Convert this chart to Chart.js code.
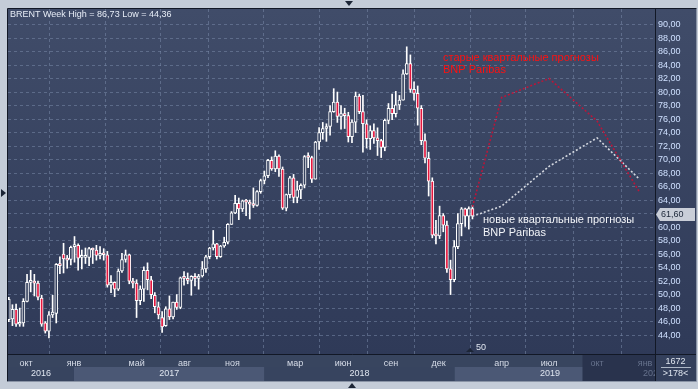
<!DOCTYPE html>
<html>
<head>
<meta charset="utf-8">
<script src="https://cdn.jsdelivr.net/npm/chart.js@4.4.1/dist/chart.umd.min.js"></script>
<style>
  html, body { margin: 0; padding: 0; background: #c4ccd8; overflow: hidden; }
</style>
</head>
<body>
<canvas id="chart" width="698" height="389"></canvas>
<script>
// недельные свечи BRENT, первая неделя с 29.08.2016
const firstWeek = '2016-08-29';

const opens = [
  // 2016
  46.3, 46.4, 47.8, 45.6, 45.8, 49.0, 51.8, 51.9, 51.7, 49.5, 45.8, 44.6, 47.0, 47.2, 54.6, 56.0, 55.4, 55.2,
  // 2017
  57.1, 57.3, 55.5, 55.5, 55.5, 56.8, 56.6, 55.8, 56.0, 55.9, 51.4, 51.8, 50.8,
  53.5, 55.2, 55.9, 52.0, 51.7, 49.1, 50.8, 53.6, 52.2, 49.9, 48.2, 46.6, 45.4,
  47.9, 46.7, 48.9, 48.1, 52.5, 52.4, 52.1, 52.7, 52.4, 52.75, 53.8, 55.6, 56.9,
  57.5, 55.6, 57.2, 57.75, 60.4, 62.1, 63.5, 62.7, 63.9, 63.7, 63.4, 63.2, 65.25,
  // 2018
  66.9, 67.6, 69.9, 68.6, 70.5, 68.6, 62.8, 64.8, 67.3, 64.4, 65.5, 66.2, 70.45,
  70.3, 67.1, 72.6, 74.0, 74.6, 74.9, 77.1, 78.5, 76.4, 76.8, 76.5, 73.4, 75.55,
  79.4, 77.1, 75.3, 73.1, 74.3, 73.2, 72.8, 71.8, 75.8, 77.6, 76.8, 78.1, 78.8,
  82.7, 84.2, 80.4, 79.8, 77.6, 72.8, 70.2, 66.8, 58.8, 58.7, 61.7, 60.3, 53.8,
  // 2019
  52.2, 57.1, 60.5, 62.7, 61.6, 62.75
];
const highs = [
  49.6, 48.5, 48.6, 48.0, 49.4, 53.0, 53.6, 53.0, 52.0, 49.9, 46.0, 47.5, 49.9, 54.6, 55.6, 57.6, 55.8, 57.2,
  58.6, 57.5, 56.6, 56.9, 57.0, 56.9, 57.3, 57.1, 56.8, 56.4, 52.8, 51.9, 53.8,
  56.1, 56.6, 56.0, 52.4, 52.2, 51.3, 54.1, 54.7, 52.7, 50.3, 48.9, 47.5, 48.2,
  49.8, 48.9, 50.0, 52.6, 53.4, 53.2, 52.8, 53.1, 53.0, 54.9, 55.8, 57.0, 59.5,
  57.6, 57.3, 58.5, 60.5, 62.3, 64.7, 64.3, 64.0, 64.1, 64.0, 65.8, 65.4, 67.1,
  68.3, 70.05, 70.4, 71.3, 70.7, 68.9, 64.9, 67.5, 67.8, 66.8, 66.4, 70.6, 71.0,
  70.5, 72.7, 74.75, 75.5, 75.3, 78.0, 80.5, 80.0, 78.0, 77.6, 77.0, 75.9, 80.0,
  79.7, 79.5, 75.9, 75.0, 75.3, 74.7, 73.0, 76.0, 78.3, 79.7, 80.1, 79.5, 83.3,
  86.7, 85.5, 81.5, 80.9, 78.0, 73.8, 71.1, 67.3, 61.0, 63.1, 62.0, 60.9, 55.1,
  58.0, 62.0, 62.9, 62.8, 63.0, 63.2
];
const lows = [
  46.0, 45.4, 45.3, 45.3, 45.3, 48.9, 50.4, 49.8, 49.2, 45.3, 44.3, 43.6, 46.6, 45.8, 53.1, 53.2, 53.9, 54.4,
  54.8, 53.6, 53.8, 54.6, 54.3, 54.6, 55.1, 55.3, 55.1, 51.1, 50.3, 49.7, 50.6,
  53.3, 54.8, 51.6, 51.0, 46.6, 48.5, 49.0, 50.7, 49.4, 47.3, 46.4, 44.4, 45.3,
  46.3, 46.4, 47.8, 47.9, 51.4, 51.6, 49.9, 51.3, 50.8, 52.6, 53.3, 55.3, 56.6,
  55.3, 55.5, 57.0, 57.5, 60.4, 62.0, 61.1, 62.3, 61.7, 61.2, 62.9, 63.1, 65.0,
  66.4, 67.3, 68.4, 68.2, 67.5, 62.6, 62.4, 64.3, 63.6, 63.6, 64.2, 65.8, 68.8,
  66.6, 67.1, 71.5, 73.0, 72.7, 73.6, 77.0, 75.5, 74.5, 74.6, 72.6, 72.5, 74.0,
  76.8, 71.1, 71.7, 71.5, 72.4, 70.6, 70.3, 71.3, 75.3, 75.9, 76.3, 77.4, 78.8,
  82.6, 79.95, 78.8, 75.1, 72.2, 69.5, 64.6, 58.4, 57.5, 58.3, 59.3, 53.3, 50.0,
  51.9, 56.8, 58.7, 60.1, 59.7, 61.2
];
const closes = [
  49.3, 47.8, 45.6, 45.8, 49.0, 51.8, 52.0, 51.7, 49.6, 45.6, 44.6, 47.0, 47.4, 54.5, 54.3, 55.3, 55.1, 57.0,
  57.2, 55.4, 55.5, 55.6, 56.8, 56.6, 55.8, 56.0, 55.9, 51.4, 51.8, 50.8, 53.5,
  55.2, 55.9, 52.0, 51.7, 49.1, 50.8, 53.6, 52.2, 50.0, 48.2, 47.0, 45.2, 47.9,
  46.7, 48.9, 48.1, 52.5, 52.4, 52.1, 52.7, 52.4, 52.75, 53.8, 55.6, 56.9, 57.5,
  55.6, 57.2, 57.75, 60.4, 62.1, 63.5, 62.7, 63.9, 63.7, 63.4, 63.2, 65.25, 66.9,
  67.6, 69.9, 68.6, 70.5, 68.6, 62.8, 64.8, 67.3, 64.4, 65.5, 66.2, 70.45, 70.3,
  67.1, 72.6, 74.0, 74.6, 74.9, 77.1, 78.5, 76.4, 76.8, 76.5, 73.4, 75.55, 79.4,
  77.1, 75.3, 73.1, 74.3, 73.2, 72.8, 71.8, 75.8, 77.6, 76.8, 78.1, 78.8, 82.7,
  84.2, 80.4, 79.8, 77.6, 72.8, 70.2, 66.8, 58.8, 58.7, 61.7, 60.3, 53.8, 52.2,
  57.1, 60.5, 62.7, 61.6, 62.75, 61.6
];

// квартальные прогнозы BNP Paribas
const forecastDates = ['2019-02-04', '2019-04-01', '2019-07-01', '2019-10-01', '2019-12-21'];
const oldForecast = [63.0, 79.2, 82.0, 75.7, 65.2];
const newForecast = [61.6, 63.1, 69.0, 73.2, 67.1];

// подписи шкал
const monthTicks = ['2016-10-01', '2017-01-01', '2017-05-01', '2017-08-01', '2017-11-01', '2018-03-01',
  '2018-06-01', '2018-09-01', '2018-12-01', '2019-04-01', '2019-07-01', '2019-10-01', '2020-01-01'];
const monthLabels = ['окт', 'янв', 'май', 'авг', 'ноя', 'мар', 'июн', 'сен', 'дек', 'апр', 'июл', 'окт', 'янв'];
const yearStarts = ['2016-01-01', '2017-01-01', '2018-01-01', '2019-01-01', '2020-01-01', '2021-01-01'];
const yearLabels = ['2016', '2017', '2018', '2019', '2020'];
const priceTicks = [44, 46, 48, 50, 52, 54, 56, 58, 60, 62, 64, 66, 68, 70, 72, 74, 76, 78, 80, 82, 84, 86, 88, 90];
const futureFrom = '2019-09-03';

const FONT = "'Liberation Sans', Arial, sans-serif";
const base = Date.UTC(2016, 9, 1);
function day(s) {
  const p = s.split('-');
  return (Date.UTC(+p[0], +p[1] - 1, +p[2]) - base) / 86400000;
}
function fmt(v) { return v.toFixed(2).replace('.', ','); }

const weekX = opens.map((o, i) => day(firstWeek) + 7 * i);

const frame = {
  id: 'frame',
  beforeDraw(chart) {
    const c = chart.ctx, a = chart.chartArea, xs = chart.scales.x;
    const W = chart.width;
    c.save();
    c.fillStyle = '#c4ccd8';
    c.fillRect(0, 0, W, chart.height);
    // поле графика и шкала цен
    const g = c.createLinearGradient(0, a.top, 0, a.bottom);
    g.addColorStop(0, '#404c69');
    g.addColorStop(1, '#2f3a58');
    c.fillStyle = g;
    c.fillRect(a.left, a.top, W - 2 - a.left, a.bottom - a.top);
    // шкала времени
    c.fillStyle = '#38455f';
    c.fillRect(a.left, a.bottom, W - 2 - a.left, 27);
    for (let i = 0; i < yearLabels.length; i++) {
      const x0 = Math.max(a.left, xs.getPixelForValue(day(yearStarts[i])));
      const x1 = Math.min(a.right, xs.getPixelForValue(day(yearStarts[i + 1])));
      if (x1 <= x0) continue;
      c.fillStyle = i % 2 ? '#4b5875' : '#37445f';
      c.fillRect(x0, a.bottom + 13, x1 - x0, 14);
    }
    const fx = xs.getPixelForValue(day(futureFrom));
    c.fillStyle = '#29334d';
    c.fillRect(fx, a.bottom + 1, a.right - fx, 26);
    c.fillStyle = '#34405c';
    c.fillRect(a.right, a.bottom, W - 2 - a.right, 27);
    c.restore();
  },
  afterDraw(chart) {
    const c = chart.ctx, a = chart.chartArea, xs = chart.scales.x, ys = chart.scales.y;
    const W = chart.width;
    c.save();
    // рамки
    c.strokeStyle = '#121826';
    c.lineWidth = 1;
    c.beginPath();
    c.moveTo(a.left - 0.5, a.top - 0.5); c.lineTo(W - 1.5, a.top - 0.5);
    c.moveTo(a.left - 0.5, a.top - 0.5); c.lineTo(a.left - 0.5, a.bottom + 27.5);
    c.moveTo(a.right + 0.5, a.top); c.lineTo(a.right + 0.5, a.bottom + 27.5);
    c.moveTo(a.left, a.bottom + 0.5); c.lineTo(W - 1.5, a.bottom + 0.5);
    c.stroke();
    c.strokeStyle = '#8a94a6';
    c.beginPath();
    c.moveTo(a.left - 0.5, a.bottom + 27.5); c.lineTo(W - 1.5, a.bottom + 27.5);
    c.moveTo(W - 1.5, a.top); c.lineTo(W - 1.5, a.bottom + 27.5);
    c.stroke();

    // годы
    c.save();
    c.beginPath();
    c.rect(a.left, a.bottom + 13, a.right - a.left, 14);
    c.clip();
    c.font = '9px ' + FONT;
    c.textAlign = 'center';
    c.textBaseline = 'middle';
    const fx = xs.getPixelForValue(day(futureFrom));
    for (let i = 0; i < yearLabels.length; i++) {
      const x0 = Math.max(a.left, xs.getPixelForValue(day(yearStarts[i])));
      const x1 = Math.min(a.right, xs.getPixelForValue(day(yearStarts[i + 1])));
      if (x1 <= x0) continue;
      const cx = x1 - x0 < 20 ? x0 + 8 : (x0 + x1) / 2;
      c.fillStyle = cx > fx ? '#66728c' : '#dfe5ef';
      c.fillText(yearLabels[i], cx, a.bottom + 20);
    }
    c.restore();

    // заголовок
    c.font = '9px ' + FONT;
    c.textAlign = 'left';
    c.textBaseline = 'middle';
    c.fillStyle = '#e6ecf6';
    c.fillText('BRENT Week High = 86,73 Low = 44,36', a.left + 2, a.top + 6);

    // подписи прогнозов
    c.font = '11px ' + FONT;
    c.textBaseline = 'alphabetic';
    c.fillStyle = '#ff1010';
    c.fillText('старые квартальные прогнозы', 443, 60.5);
    c.fillText('BNP Paribas', 443, 73.3);
    c.fillStyle = '#f2f4f8';
    c.fillText('новые квартальные прогнозы', 483, 223.3);
    c.fillText('BNP Paribas', 483, 236);

    // метка последней цены
    const last = closes[closes.length - 1];
    const py = Math.round(ys.getPixelForValue(last)) - 1.5;
    c.fillStyle = '#c9ced8';
    c.beginPath();
    c.moveTo(a.right + 1, py);
    c.lineTo(a.right + 5, py - 6.5);
    c.lineTo(W - 3, py - 6.5);
    c.lineTo(W - 3, py + 6.5);
    c.lineTo(a.right + 5, py + 6.5);
    c.closePath();
    c.fill();
    c.fillStyle = '#1b2638';
    c.font = '9px ' + FONT;
    c.textBaseline = 'middle';
    c.fillText(fmt(last), a.right + 6, py + 0.5);

    // нижний правый блок
    c.fillStyle = '#dfe5ef';
    c.textAlign = 'center';
    c.fillText('1672', (a.right + W - 2) / 2, a.bottom + 8);
    c.fillText('>178<', (a.right + W - 2) / 2, a.bottom + 20);
    c.strokeStyle = '#aeb8c8';
    c.beginPath();
    c.moveTo(a.right + 6, a.bottom + 13.5); c.lineTo(W - 7, a.bottom + 13.5);
    c.stroke();

    // метка "50"
    c.fillStyle = '#e0e6f0';
    c.fillText('50', 481, a.bottom - 6);
    c.fillStyle = '#1c2536';
    c.beginPath();
    c.moveTo(466, a.bottom - 2); c.lineTo(470, a.bottom - 6); c.lineTo(474, a.bottom - 2);
    c.closePath(); c.fill();

    // стрелки рамки
    c.fillStyle = '#1c2536';
    c.beginPath();
    c.moveTo(345, 1); c.lineTo(353, 1); c.lineTo(349, 6); c.closePath(); c.fill();
    c.beginPath();
    c.moveTo(1, 189); c.lineTo(1, 197); c.lineTo(6, 193); c.closePath(); c.fill();
    c.beginPath();
    c.moveTo(348, 388); c.lineTo(356, 388); c.lineTo(352, 383); c.closePath(); c.fill();
    c.restore();
  }
};

const ctx = document.getElementById('chart').getContext('2d');
new Chart(ctx, {
  type: 'bar',
  data: {
    datasets: [
      {
        type: 'line',
        data: forecastDates.map((d, i) => ({ x: day(d), y: oldForecast[i] })),
        borderColor: '#b8163a',
        borderWidth: 1.6,
        borderDash: [2, 2],
        pointRadius: 0,
        tension: 0,
        order: 1
      },
      {
        type: 'line',
        data: forecastDates.map((d, i) => ({ x: day(d), y: newForecast[i] })),
        borderColor: '#d4d8e0',
        borderWidth: 1.6,
        borderDash: [2, 2],
        pointRadius: 0,
        tension: 0,
        order: 1
      },
      {
        // тела свечей
        data: weekX.map((x, i) => ({ x: x, y: [opens[i], closes[i]] })),
        backgroundColor: closes.map((cl, i) => cl >= opens[i] ? '#36425f' : '#e5163e'),
        borderColor: '#ffffff',
        borderWidth: 1,
        borderSkipped: false,
        barThickness: 3,
        minBarLength: 2,
        grouped: false,
        order: 2
      },
      {
        // тени
        data: weekX.map((x, i) => ({ x: x, y: [lows[i], highs[i]] })),
        backgroundColor: '#ffffff',
        borderWidth: 0,
        barThickness: 1,
        grouped: false,
        order: 3
      }
    ]
  },
  options: {
    responsive: false,
    animation: false,
    layout: { padding: { left: 8, top: 9, right: 0, bottom: 0 } },
    plugins: { legend: { display: false }, tooltip: { enabled: false } },
    scales: {
      x: {
        type: 'linear',
        min: -34.5,
        max: 1206,
        offset: false,
        afterBuildTicks: s => { s.ticks = monthTicks.map(d => ({ value: day(d) })); },
        afterFit: s => { s.height = 35; },
        grid: { color: 'rgba(120,136,168,0.55)', drawTicks: false, lineWidth: 1 },
        border: { display: false, dash: [3, 3] },
        ticks: {
          autoSkip: false,
          maxRotation: 0,
          padding: 4,
          font: { family: FONT, size: 9 },
          color: c => c.index >= 11 ? '#66728c' : '#d6dce8',
          callback: (v, i) => monthLabels[i]
        }
      },
      y: {
        position: 'right',
        min: 41.2,
        max: 92.3,
        afterBuildTicks: s => { s.ticks = priceTicks.map(v => ({ value: v })); },
        afterFit: s => { s.width = 43; },
        grid: { color: 'rgba(120,136,168,0.55)', drawTicks: false, lineWidth: 1 },
        border: { display: false, dash: [3, 3] },
        ticks: {
          padding: 3,
          font: { family: FONT, size: 9 },
          color: '#cfe0ff',
          callback: v => fmt(v)
        }
      }
    }
  },
  plugins: [frame]
});
</script>
</body>
</html>
